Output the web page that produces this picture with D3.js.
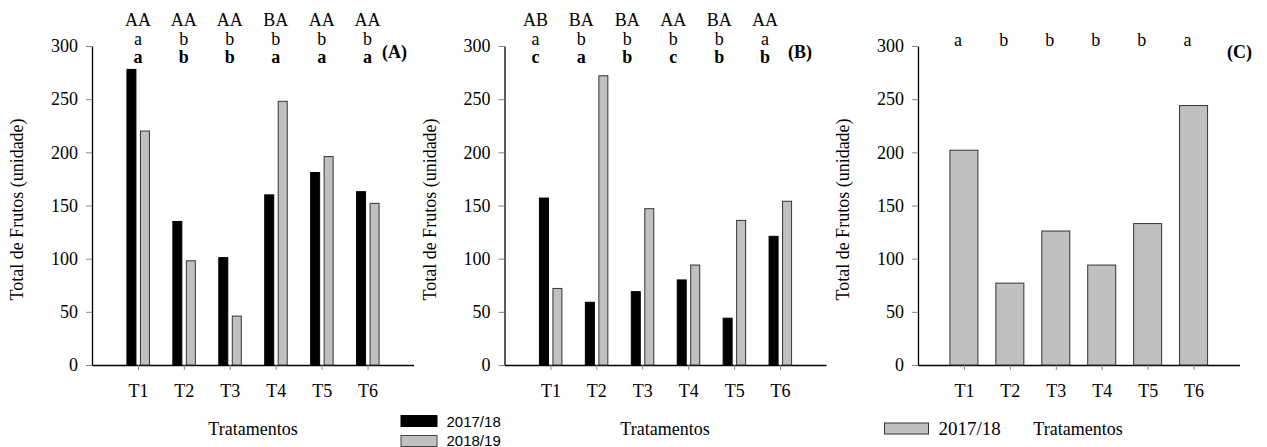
<!DOCTYPE html>
<html>
<head>
<meta charset="utf-8">
<script src="https://cdn.jsdelivr.net/npm/d3@7"></script>
<style>
  html, body { margin: 0; padding: 0; background: #fff; }
  svg { display: block; }
</style>
</head>
<body>
<svg id="chart" width="1267" height="447"></svg>
<script>
// Treatments on the x axis
const categories = ["T1", "T2", "T3", "T4", "T5", "T6"];
const yTicks = [0, 50, 100, 150, 200, 250, 300];

// (A) total fruits per treatment, two seasons
const totalA2017 = [278, 135, 101, 160, 181, 163];
const totalA2018 = [220, 98, 46, 248, 196, 152];
// (B) total fruits per treatment, two seasons
const totalB2017 = [157, 59, 69, 80, 44, 121];
const totalB2018 = [72, 272, 147, 94, 136, 154];
// (C) total fruits per treatment, 2017/18
const totalC2017 = [202, 77, 126, 94, 133, 244];

// Significance letters
const lettersATop = ["AA", "AA", "AA", "BA", "AA", "AA"];
const lettersAMid = ["a", "b", "b", "b", "b", "b"];
const lettersABold = ["a", "b", "b", "a", "a", "a"];
const lettersBTop = ["AB", "BA", "BA", "AA", "BA", "AA"];
const lettersBMid = ["a", "b", "b", "b", "b", "a"];
const lettersBBold = ["c", "a", "b", "c", "b", "b"];
const lettersC = ["a", "b", "b", "b", "b", "a"];

const seasons = ["2017/18", "2018/19"];

const SERIF = '"Liberation Serif", "Times New Roman", serif';
const SANS = '"Liberation Sans", Arial, sans-serif';

const svg = d3.select("#chart");
const BLACK = "#000";
const GRAY = "#c0c0c0";
const yBottom = 365, yTop = 46, axisW = 321.5;

function panel(opts) {
  const g = svg.append("g");
  const x = d3.scaleLinear().domain([0, 7]).range([opts.left, opts.left + axisW]);
  const y = d3.scaleLinear().domain([0, 300]).range([yBottom, yTop]);

  // y axis
  const ya = g.append("g").attr("transform", `translate(${opts.left},0)`)
    .call(d3.axisLeft(y).tickValues(yTicks).tickSize(6).tickPadding(8).tickSizeOuter(0));
  ya.attr("font-family", null).attr("font-size", null);
  ya.select(".domain").attr("stroke", "#000").attr("stroke-width", 1.3);
  ya.selectAll(".tick line").attr("stroke", "#888");
  ya.selectAll(".tick text").style("font-family", SERIF).style("font-size", "18px").attr("fill", "#000");

  // x axis
  const xa = g.append("g").attr("transform", `translate(0,${yBottom})`)
    .call(d3.axisBottom(x).tickValues(d3.range(1, 7)).tickFormat(d => categories[d - 1])
      .tickSize(5).tickPadding(14).tickSizeOuter(0));
  xa.attr("font-family", null).attr("font-size", null);
  xa.select(".domain").attr("stroke", "#000").attr("stroke-width", 1.3);
  xa.selectAll(".tick line").attr("stroke", "#888");
  xa.selectAll(".tick text").style("font-family", SERIF).style("font-size", "18px").attr("fill", "#000");

  // bars
  opts.series.forEach(s => {
    g.append("g").selectAll("rect").data(s.values).join("rect")
      .attr("x", (d, i) => x(i + 1) + s.offset)
      .attr("width", s.width)
      .attr("y", d => y(d))
      .attr("height", d => y(0) - y(d))
      .attr("fill", s.color)
      .attr("stroke", s.color === BLACK ? "#000" : "#333")
      .attr("stroke-width", 1);
  });

  // letter rows
  opts.rows.forEach(r => {
    g.append("g").selectAll("text").data(r.values).join("text")
      .attr("x", (d, i) => x(i + 1) + opts.letterShift)
      .attr("y", r.baseline)
      .attr("text-anchor", "middle")
      .style("font-family", SERIF).style("font-size", "18px")
      .style("font-weight", r.bold ? "bold" : "normal")
      .text(d => d);
  });

  // panel tag
  g.append("text")
    .attr("x", opts.tagX).attr("y", 58)
    .style("font-family", SERIF).style("font-size", "18px").style("font-weight", "bold")
    .text(opts.tag);

  // y title
  g.append("text")
    .attr("transform", `translate(${opts.left - 69},${(yTop + yBottom) / 2 + 4}) rotate(-90)`)
    .attr("text-anchor", "middle")
    .style("font-family", SERIF).style("font-size", "18px")
    .text("Total de Frutos (unidade)");

  // x title
  g.append("text")
    .attr("x", opts.xTitleX).attr("y", 435)
    .attr("text-anchor", "middle")
    .style("font-family", SERIF).style("font-size", "18px")
    .text("Tratamentos");
}

panel({
  left: 92, tag: "(A)", tagX: 382, xTitleX: 253, letterShift: 0,
  series: [
    { values: totalA2017, color: BLACK, offset: -11, width: 9 },
    { values: totalA2018, color: GRAY, offset: 2.5, width: 9 }
  ],
  rows: [
    { values: lettersATop, baseline: 26 },
    { values: lettersAMid, baseline: 45 },
    { values: lettersABold, baseline: 63, bold: true }
  ]
});

panel({
  left: 504.5, tag: "(B)", tagX: 788, xTitleX: 665, letterShift: -15,
  series: [
    { values: totalB2017, color: BLACK, offset: -11, width: 9 },
    { values: totalB2018, color: GRAY, offset: 2.5, width: 9 }
  ],
  rows: [
    { values: lettersBTop, baseline: 26 },
    { values: lettersBMid, baseline: 45 },
    { values: lettersBBold, baseline: 63, bold: true }
  ]
});

panel({
  left: 918, tag: "(C)", tagX: 1227, xTitleX: 1078, letterShift: -6,
  series: [
    { values: totalC2017, color: GRAY, offset: -14, width: 28 }
  ],
  rows: [
    { values: lettersC, baseline: 46 }
  ]
});

// legend for (A) and (B)
const leg = svg.append("g");
[BLACK, GRAY].forEach((c, i) => {
  leg.append("rect").attr("x", 401).attr("y", 415.5 + i * 20).attr("width", 36).attr("height", 11)
    .attr("fill", c).attr("stroke", c === BLACK ? "#000" : "#444").attr("stroke-width", 1);
  leg.append("text").attr("x", 446.5).attr("y", 426.5 + i * 19)
    .style("font-family", SANS).style("font-size", "15px").text(seasons[i]);
});

// legend for (C)
const legC = svg.append("g");
legC.append("rect").attr("x", 884.5).attr("y", 423).attr("width", 44).attr("height", 11)
  .attr("fill", GRAY).attr("stroke", "#333").attr("stroke-width", 1);
legC.append("text").attr("x", 938.5).attr("y", 435)
  .style("font-family", SERIF).style("font-size", "19px").text(seasons[0]);
</script>
</body>
</html>
